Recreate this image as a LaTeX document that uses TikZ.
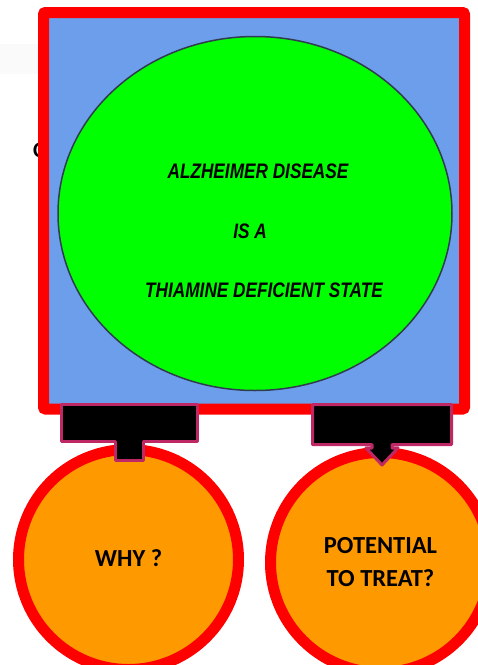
\documentclass[tikz,border=0pt]{standalone}
\usepackage{fontspec}
\usepackage{tikz}
\usetikzlibrary{positioning,shapes.geometric}
\newfontfamily\calfont{Carlito}
\newfontfamily\narrowfont[FakeStretch=0.82]{Liberation Sans}
\definecolor{boxblue}{RGB}{108,158,235}
\definecolor{brightgreen}{RGB}{0,255,0}
\definecolor{ringred}{RGB}{255,0,0}
\definecolor{ballorange}{RGB}{255,153,0}
\definecolor{calloutpink}{RGB}{190,40,100}
\definecolor{rimgray}{RGB}{50,60,80}
\tikzstyle{mainbox} = [rectangle, rounded corners=2pt, minimum width=421pt, minimum height=396.5pt, draw=ringred, line width=11pt, fill=boxblue, inner sep=0pt]
\tikzstyle{statebubble} = [ellipse, minimum width=394pt, minimum height=354pt, draw=rimgray, line width=1.5pt, fill=brightgreen, inner sep=0pt]
\tikzstyle{statetext} = [anchor=base, inner sep=0pt, font=\narrowfont\bfseries\itshape\fontsize{21}{25}\selectfont]
\tikzstyle{ball} = [circle, minimum size=220pt, draw=ringred, line width=11pt, fill=ballorange, inner sep=0pt, align=center, font=\calfont\bfseries\fontsize{24.5}{33}\selectfont]
\tikzstyle{callout} = [draw=calloutpink, line width=3pt, fill=black, line join=round]

\begin{document}
\begin{tikzpicture}[x=1pt, y=-1pt]
\useasboundingbox (0,0) rectangle (478,665);
\fill [black!2] (0,44) rectangle (38,74);
\node (cfrag) [anchor=base west, inner sep=0pt, font=\calfont\bfseries\fontsize{22}{26}\selectfont] at (33,157) {C};

\node (square) [mainbox] at (254,210.75) {};
\node (state) [statebubble] at (255,213.5) {};
\node (alz) [statetext] at (258,178) {ALZHEIMER DISEASE};
\node (isa) [statetext] at (250,238) {IS A};
\node (thia) [statetext] at (264,297) {THIAMINE DEFICIENT STATE};

\node (why) [ball] at (128.5,559.5) {\raisebox{3.5pt}{WHY ?}};
\node (treat) [ball] at (380.5,562.5) {POTENTIAL\\TO TREAT?};

% callouts under the square
\draw [callout] (61.5,404.5) -- (197.5,404.5) -- (197.5,441.5) -- (143.5,441.5) -- (143.5,460.5) -- (115.5,460.5) -- (115.5,441.5) -- (61.5,441.5) -- cycle;
\draw [callout] (312.5,404.5) -- (451.5,404.5) -- (451.5,444.5) -- (392,444.5) -- (392,448) -- (398,448) -- (382,465) -- (366,448) -- (372,448) -- (372,444.5) -- (312.5,444.5) -- cycle;
\end{tikzpicture}
\end{document}
